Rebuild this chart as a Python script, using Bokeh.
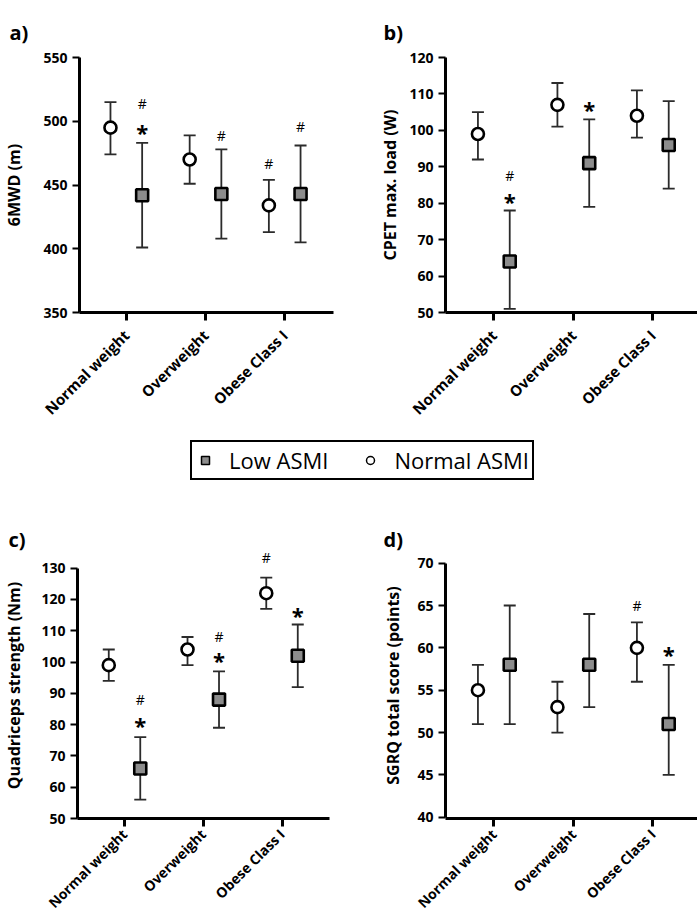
import math
from bokeh.plotting import figure
from bokeh.layouts import column, row
from bokeh.models import (ColumnDataSource, Whisker, TeeHead, FixedTicker, Range1d,
                          Legend, LegendItem)
from bokeh.core.properties import value
from bokeh.embed import file_html
from bokeh.resources import INLINE

FONT = "Open Sans"
categories = ["Normal weight", "Overweight", "Obese Class I"]
cat_pos = [1, 2, 3]
group_offset = 0.2

# ---- panel a: 6MWD (m)
a_normal = [495, 470, 434]
a_normal_lo = [474, 451, 413]
a_normal_hi = [515, 489, 454]
a_low = [442, 443, 443]
a_low_lo = [401, 408, 405]
a_low_hi = [483, 478, 481]
a_marks = [(1, "low", "#", 514), (1, "low", "*", 496), (2, "low", "#", 489),
           (3, "normal", "#", 467), (3, "low", "#", 496)]

# ---- panel b: CPET max. load (W)
b_normal = [99, 107, 104]
b_normal_lo = [92, 101, 98]
b_normal_hi = [105, 113, 111]
b_low = [64, 91, 96]
b_low_lo = [51, 79, 84]
b_low_hi = [78, 103, 108]
b_marks = [(1, "low", "#", 87.5), (1, "low", "*", 82.2), (2, "low", "*", 107.6)]

# ---- panel c: Quadriceps strength (Nm)
c_normal = [99, 104, 122]
c_normal_lo = [94, 99, 117]
c_normal_hi = [104, 108, 127]
c_low = [66, 88, 102]
c_low_lo = [56, 79, 92]
c_low_hi = [76, 97, 112]
c_marks = [(1, "low", "#", 88), (1, "low", "*", 81.7), (2, "low", "#", 108),
           (2, "low", "*", 102.5), (3, "normal", "#", 133.3), (3, "low", "*", 116.8)]

# ---- panel d: SGRQ total score (points)
d_normal = [55, 53, 60]
d_normal_lo = [51, 50, 56]
d_normal_hi = [58, 56, 63]
d_low = [58, 58, 51]
d_low_lo = [51, 53, 45]
d_low_hi = [65, 64, 58]
d_marks = [(3, "normal", "#", 65), (3, "low", "*", 60)]

series_names = ["Low ASMI", "Normal ASMI"]

SQUARE_FILL = "#8c8c8c"
BAR_COLOR = "#2b2b2b"


def make_panel(tag, ylabel, yrange, ybounds, yticks, xrange,
               nm, nlo, nhi, lm, llo, lhi, marks,
               width, height, bl, br, bt, bb, title_offset, title_standoff,
               xlab_size, xlab_standoff, ylab_standoff):
    p = figure(width=width, height=height, x_range=Range1d(*xrange),
               y_range=Range1d(*yrange), output_backend="svg", toolbar_location=None,
               min_border_left=bl, min_border_right=br, min_border_top=bt,
               min_border_bottom=bb, title=tag)
    p.title.align = "left"
    p.title.offset = title_offset
    p.title.standoff = title_standoff
    p.title.text_font = FONT
    p.title.text_font_size = "20px"
    p.title.text_font_style = "bold"
    p.title.text_color = "black"
    p.grid.visible = False
    p.outline_line_color = None

    xn = [c - group_offset for c in cat_pos]
    xl = [c + group_offset for c in cat_pos]
    for xs, lo, hi in ((xn, nlo, nhi), (xl, llo, lhi)):
        src = ColumnDataSource(dict(x=xs, lo=lo, hi=hi))
        w = Whisker(source=src, base="x", lower="lo", upper="hi",
                    line_color=BAR_COLOR, line_width=1.8,
                    upper_head=TeeHead(size=12, line_color=BAR_COLOR, line_width=1.8),
                    lower_head=TeeHead(size=12, line_color=BAR_COLOR, line_width=1.8))
        p.add_layout(w)

    p.scatter(xn, nm, marker="circle", size=12, fill_color="white",
              line_color="black", line_width=2.6)
    p.scatter(xl, lm, marker="square", size=12, fill_color=SQUARE_FILL,
              line_color="black", line_width=2.6)

    for sym, fs, yoff in (("#", "14px", 0), ("*", "22px", 6)):
        xs = [c - group_offset if g == "normal" else c + group_offset
              for (c, g, s, y) in marks if s == sym]
        ys = [y for (c, g, s, y) in marks if s == sym]
        if xs:
            p.text(xs, ys, text=[sym] * len(xs), text_align="center",
                   text_baseline="middle", text_font=value(FONT),
                   text_font_size=fs, text_color="black", y_offset=yoff,
                   text_font_style="bold" if sym == "*" else "normal")

    # x axis
    xa = p.xaxis[0]
    xa.ticker = FixedTicker(ticks=cat_pos)
    xa.major_label_overrides = {c: n for c, n in zip(cat_pos, categories)}
    xa.major_label_orientation = math.pi / 4
    xa.minor_tick_line_color = None
    xa.axis_line_width = 3
    xa.axis_line_color = "black"
    xa.major_tick_line_width = 3
    xa.major_tick_line_color = "black"
    xa.major_tick_out = 8
    xa.major_tick_in = 0
    xa.major_label_text_font = FONT
    xa.major_label_text_font_size = xlab_size
    xa.major_label_text_font_style = "bold"
    xa.major_label_text_color = "black"
    xa.major_label_standoff = xlab_standoff

    ya = p.yaxis[0]
    ya.ticker = FixedTicker(ticks=yticks)
    ya.bounds = ybounds
    ya.minor_tick_line_color = None
    ya.axis_line_width = 3
    ya.axis_line_color = "black"
    ya.major_tick_line_width = 2
    ya.major_tick_line_color = "black"
    ya.major_tick_out = 7
    ya.major_tick_in = 0
    ya.major_label_text_font = FONT
    ya.major_label_text_font_size = "14px"
    ya.major_label_text_font_style = "bold"
    ya.major_label_text_color = "black"
    ya.major_label_standoff = 5
    ya.axis_label = ylabel
    ya.axis_label_text_font = FONT
    ya.axis_label_text_font_size = "16px"
    ya.axis_label_text_font_style = "bold"
    ya.axis_label_text_color = "black"
    ya.axis_label_standoff = ylab_standoff
    return p


TOP_H, LEG_H, BOT_H = 429, 91, 402

pa = make_panel("a)", "6MWD (m)", (350, 550), (350, 550), [350, 400, 450, 500, 550],
                (0.409, 3.616), a_normal, a_normal_lo, a_normal_hi,
                a_low, a_low_lo, a_low_hi, a_marks,
                340, TOP_H, 78, 7, 57, 117, -70, 24, "15px", 12, 15)
pb = make_panel("b)", "CPET max. load (W)", (50, 120), (50, 120),
                [50, 60, 70, 80, 90, 100, 110, 120],
                (0.392, 3.562), b_normal, b_normal_lo, b_normal_hi,
                b_low, b_low_lo, b_low_hi, b_marks,
                357, TOP_H, 105, 0, 57, 117, -62, 24, "15px", 12, 5)
pc = make_panel("c)", "Quadriceps strength (Nm)", (50, 135), (50, 130),
                [50, 60, 70, 80, 90, 100, 110, 120, 130],
                (0.403, 3.603), c_normal, c_normal_lo, c_normal_hi,
                c_low, c_low_lo, c_low_hi, c_marks,
                340, BOT_H, 77, 11, 32, 104, -69, 0, "14px", 5, 13)
pd = make_panel("d)", "SGRQ total score (points)", (39.85, 71.26), (40, 70),
                [40, 45, 50, 55, 60, 65, 70],
                (0.392, 3.562), d_normal, d_normal_lo, d_normal_hi,
                d_low, d_low_lo, d_low_hi, d_marks,
                357, BOT_H, 105, 0, 32, 104, -62, 0, "14px", 5, 10)

# ---- legend strip
lf = figure(width=697, height=LEG_H, x_range=Range1d(0, 1), y_range=Range1d(0, 1),
            output_backend="svg", toolbar_location=None, min_border=0)
lf.axis.visible = False
lf.grid.visible = False
lf.outline_line_color = None
nan = float("nan")
r_low = lf.scatter(x=[nan], y=[nan], marker="square", fill_color=SQUARE_FILL,
                   line_color="black", line_width=1.5)
r_norm = lf.scatter(x=[nan], y=[nan], marker="circle", fill_color="white",
                    line_color="black", line_width=1.5)
leg = Legend(items=[LegendItem(label=series_names[0], renderers=[r_low]),
                    LegendItem(label=series_names[1], renderers=[r_norm])],
             orientation="horizontal", location=(190, 40),
             border_line_color="black", border_line_width=2, border_line_alpha=1.0,
             label_text_font=FONT, label_text_font_size="22px",
             label_text_color="black",
             glyph_width=20, glyph_height=20, label_height=20,
             spacing=32, label_standoff=14, padding=3, margin=0)
lf.add_layout(leg)

layout = column(row(pa, pb), lf, row(pc, pd))
open("out.html", "w").write(file_html(layout, INLINE))
